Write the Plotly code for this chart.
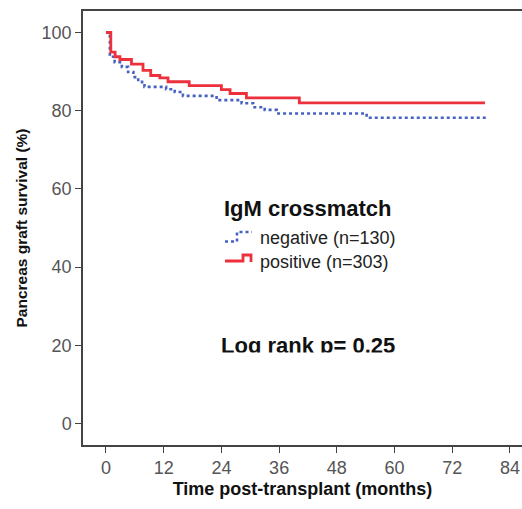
import plotly.graph_objects as go

# Kaplan-Meier step data (months, % surviving)
neg_months = [0, 0.8, 1.8, 3.3, 4.6, 5.7, 6.7, 7.5, 8.0, 12.5, 14.3, 16.0, 23.0, 28.2, 30.6, 33.0, 35.5, 54.2, 79.4]
neg_surv = [100, 93.8, 92.4, 91.2, 89.9, 88.6, 87.4, 86.5, 86.1, 85.5, 84.8, 83.8, 82.7, 81.9, 80.9, 80.2, 79.3, 78.2, 78.2]

pos_months = [0, 1.0, 1.9, 2.9, 5.3, 7.7, 9.3, 11.2, 12.9, 17.3, 24.0, 25.8, 29.2, 40.2, 78.8]
pos_surv = [100, 95.0, 93.8, 93.1, 91.9, 90.3, 89.0, 88.4, 87.4, 86.4, 85.4, 84.4, 83.3, 82.0, 82.0]

x_ticks = [0, 12, 24, 36, 48, 60, 72, 84]
y_ticks = [0, 20, 40, 60, 80, 100]

BLUE = "#4562C0"
RED = "#EC313C"
FONT = "Liberation Sans, Arial, sans-serif"

fig = go.Figure()
fig.add_trace(go.Scatter(x=neg_months, y=neg_surv, mode="lines", line_shape="hv",
                         line=dict(color=BLUE, width=2.6, dash="dot"), showlegend=False))
fig.add_trace(go.Scatter(x=pos_months, y=pos_surv, mode="lines", line_shape="hv",
                         line=dict(color=RED, width=2.8), showlegend=False))

W, H = 522, 509
L, R, T, B = 83, 0, 11, 64
pw, ph = W - L - R, H - T - B


def px(x):
    return (x - L) / pw


def py(y):
    return 1 - (y - T) / ph


# Legend block drawn by hand: title, step-shaped icons and labels
ann = [
    dict(text="<b>IgM crossmatch</b>", x=px(308), y=py(208), font=dict(size=22, color="#111", family=FONT)),
    dict(text="negative (n=130)", x=px(258), y=py(238), xanchor="left", font=dict(size=18, color="#222", family=FONT)),
    dict(text="positive (n=303)", x=px(258), y=py(262), xanchor="left", font=dict(size=18, color="#222", family=FONT)),
    dict(text="<b>Log rank p= 0.25</b>", x=px(308), y=py(345), font=dict(size=22, color="#111", family=FONT)),
    # white strip that trims the descenders of the log-rank line
    dict(text=" ", x=px(308), y=py(358.5), width=200, height=9, bgcolor="white", font=dict(size=6)),
]
for a in ann:
    a.update(xref="paper", yref="paper", showarrow=False)
    a.setdefault("xanchor", "center")
    a.setdefault("yanchor", "middle")


def path(points):
    pts = [f"{px(x)},{py(y)}" for x, y in points]
    return "M " + " L ".join(pts)


shapes = [
    dict(type="path", xref="paper", yref="paper",
         path=path([(225, 241.5), (237, 241.5), (237, 232), (252, 232)]),
         line=dict(color=BLUE, width=2.6, dash="dot")),
    dict(type="path", xref="paper", yref="paper",
         path=path([(225, 261), (243, 261), (243, 255), (251, 255), (251, 262)]),
         line=dict(color=RED, width=2.8)),
]

axis_common = dict(showgrid=False, zeroline=False, showline=True, linecolor="#444", linewidth=1.5,
                   ticks="outside", ticklen=6, tickwidth=1.3, tickcolor="#444",
                   tickfont=dict(size=18, color="#555", family=FONT))

fig.update_layout(
    width=W, height=H,
    margin=dict(l=L, r=R, t=T, b=B),
    plot_bgcolor="white", paper_bgcolor="white",
    xaxis=dict(range=[-4.78, 86.5], tickvals=x_ticks, mirror=True,
               title=dict(text="<b>Time post-transplant (months)</b>", font=dict(size=18, color="#111", family=FONT),
                          standoff=5),
               **axis_common),
    yaxis=dict(range=[-5.5, 105.5], tickvals=y_ticks,
               title=dict(text="<b>Pancreas graft survival (%)</b>", font=dict(size=15.5, color="#111", family=FONT),
                          standoff=10),
               **axis_common),
    annotations=ann,
    shapes=shapes,
)

fig.write_html("out.html")
